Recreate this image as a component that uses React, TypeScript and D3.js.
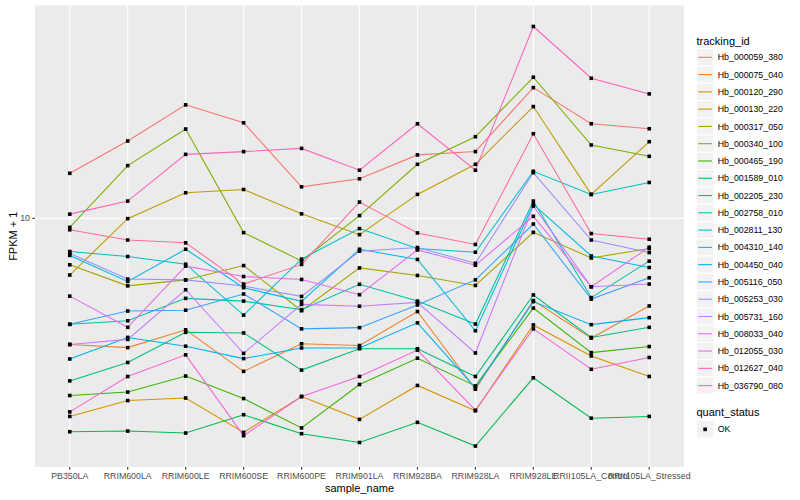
import React from 'react';
import * as d3 from 'd3';

const sampleNames = [
  'PB350LA', 'RRIM600LA', 'RRIM600LE', 'RRIM600SE', 'RRIM600PE', 'RRIM901LA',
  'RRIM928BA', 'RRIM928LA', 'RRIM928LE', 'RRII105LA_Control', 'RRII105LA_Stressed',
];

const trackingIds = [
  'Hb_000059_380', 'Hb_000075_040', 'Hb_000120_290', 'Hb_000130_220', 'Hb_000317_050',
  'Hb_000340_100', 'Hb_000465_190', 'Hb_001589_010', 'Hb_002205_230', 'Hb_002758_010',
  'Hb_002811_130', 'Hb_004310_140', 'Hb_004450_040', 'Hb_005116_050', 'Hb_005253_030',
  'Hb_005731_160', 'Hb_008033_040', 'Hb_012055_030', 'Hb_012627_040', 'Hb_036790_080',
];

// FPKM + 1 for each sample (same order as sampleNames)
const hb000059_380 = [13.85, 17.49, 22.71, 19.95, 12.56, 13.31, 15.82, 16.2, 25.72, 19.81, 19.11];
const hb000075_040 = [4.02, 3.93, 4.47, 3.31, 4.04, 3.99, 5.1, 2.91, 5.52, 4.21, 5.31];
const hb000120_290 = [2.39, 2.68, 2.73, 2.13, 2.76, 2.34, 2.99, 2.49, 4.63, 3.7, 3.19];
const hb000130_220 = [6.64, 9.98, 12.03, 12.32, 10.33, 8.89, 11.89, 14.78, 22.43, 11.89, 17.4];
const hb000317_050 = [7.15, 6.14, 6.41, 7.11, 5.13, 6.99, 6.62, 6.16, 9.04, 7.51, 8.04];
const hb000340_100 = [9.37, 14.64, 19.07, 9.02, 7.35, 10.2, 14.78, 18.04, 27.72, 16.99, 15.66];
const hb000465_190 = [2.78, 2.85, 3.2, 2.72, 2.2, 3.01, 3.64, 2.98, 5.23, 3.79, 3.96];
const hb001589_010 = [2.14, 2.15, 2.12, 2.42, 2.11, 1.98, 2.29, 1.93, 3.16, 2.36, 2.39];
const hb002205_230 = [3.09, 3.53, 4.39, 4.37, 3.34, 3.9, 3.9, 3.19, 5.75, 4.23, 4.55];
const hb002758_010 = [4.65, 4.77, 5.61, 5.5, 5.17, 6.21, 5.5, 4.66, 11.33, 5.64, 7.34];
const hb002811_130 = [7.87, 7.59, 7.18, 4.97, 7.45, 9.29, 8.04, 7.83, 14.05, 11.89, 12.96];
const hb004310_140 = [7.65, 6.34, 8.0, 6.06, 5.49, 8.0, 7.43, 4.44, 11.06, 7.62, 7.01];
const hb004450_040 = [3.62, 4.23, 3.97, 3.63, 3.92, 3.92, 4.7, 2.94, 5.48, 4.64, 4.88];
const hb005116_050 = [4.65, 5.12, 5.15, 5.79, 4.5, 4.54, 5.35, 6.41, 9.6, 5.58, 6.51];
const hb005253_030 = [7.76, 6.45, 6.41, 6.13, 5.69, 7.89, 8.1, 7.23, 13.92, 8.55, 7.81];
const hb005731_160 = [4.02, 4.17, 5.97, 3.77, 5.37, 5.3, 5.45, 3.78, 10.93, 6.1, 6.22];
const hb008033_040 = [5.7, 4.55, 7.08, 6.57, 6.43, 5.76, 7.96, 7.13, 10.15, 6.1, 8.12];
const hb012055_030 = [2.47, 3.19, 3.73, 2.08, 2.76, 3.19, 3.86, 2.5, 4.5, 3.36, 3.66];
const hb012627_040 = [10.31, 11.33, 15.88, 16.2, 16.58, 14.16, 19.81, 14.16, 40.01, 27.52, 24.58];
const hb036790_080 = [9.21, 8.55, 8.38, 6.22, 7.17, 11.25, 9.0, 8.28, 18.43, 8.96, 8.6];

const seriesValues = [
  hb000059_380, hb000075_040, hb000120_290, hb000130_220, hb000317_050,
  hb000340_100, hb000465_190, hb001589_010, hb002205_230, hb002758_010,
  hb002811_130, hb004310_140, hb004450_040, hb005116_050, hb005253_030,
  hb005731_160, hb008033_040, hb012055_030, hb012627_040, hb036790_080,
];

const quantStatus = ['OK'];
const yTicks = [10];

// ggplot2 default hue palette for 20 groups
const palette = [
  '#F8766D', '#EA8331', '#D89000', '#C09B00', '#A3A500', '#7CAE00', '#39B600', '#00BB4E',
  '#00BF7D', '#00C1A3', '#00BFC4', '#00BAE0', '#00B0F6', '#35A2FF', '#9590FF', '#C77CFF',
  '#E76BF3', '#FA62DB', '#FF62BC', '#FF6C91',
];

const FONT = '"Liberation Sans", Arial, Helvetica, sans-serif';

export default function App() {
  const width = 800;
  const height = 500;
  const panel = { left: 35, right: 684, top: 5.5, bottom: 467 };

  const x = d3.scalePoint<string>()
    .domain(sampleNames)
    .range([panel.left, panel.right])
    .padding(0.6);

  const allVals = seriesValues.flat();
  const [lo, hi] = d3.extent(allVals) as [number, number];
  const llo = Math.log10(lo);
  const lhi = Math.log10(hi);
  const pad = (lhi - llo) * 0.05;
  const y = d3.scaleLog()
    .domain([Math.pow(10, llo - pad), Math.pow(10, lhi + pad)])
    .range([panel.bottom, panel.top]);

  const line = d3.line<number>()
    .x((_, i) => x(sampleNames[i]) as number)
    .y(d => y(d));

  const keySize = 17.28;
  const legendX = 696.5;
  const legendTop = 57.3 - keySize / 2;

  return (
    <>
      <style>{'body{margin:0}'}</style>
      <svg width={width} height={height} style={{ display: 'block', fontFamily: FONT }}>
        <rect width={width} height={height} fill="#ffffff" />
        <rect
          x={panel.left}
          y={panel.top}
          width={panel.right - panel.left}
          height={panel.bottom - panel.top}
          fill="#EBEBEB"
        />
        {/* grid */}
        {yTicks.map(t => (
          <line key={'gy' + t} x1={panel.left} x2={panel.right} y1={y(t)} y2={y(t)}
            stroke="#fff" strokeWidth={1.07} />
        ))}
        {sampleNames.map(s => (
          <line key={'gx' + s} x1={x(s)} x2={x(s)} y1={panel.top} y2={panel.bottom}
            stroke="#fff" strokeWidth={1.07} />
        ))}

        {/* lines */}
        {seriesValues.map((vals, i) => (
          <path key={trackingIds[i]} d={line(vals) || ''} fill="none"
            stroke={palette[i]} strokeWidth={1.07} />
        ))}

        {/* points */}
        {seriesValues.map((vals, i) =>
          vals.map((v, j) => (
            <rect key={trackingIds[i] + j} x={(x(sampleNames[j]) as number) - 1.8}
              y={y(v) - 1.8} width={3.6} height={3.6} fill="#000" />
          ))
        )}

        {/* y axis */}
        {yTicks.map(t => (
          <g key={'ty' + t}>
            <line x1={panel.left - 2.75} x2={panel.left} y1={y(t)} y2={y(t)} stroke="#333333" strokeWidth={1.07} />
            <text x={panel.left - 5} y={y(t)} dy="0.35em" textAnchor="end" fontSize={8.8} fill="#4D4D4D">{t}</text>
          </g>
        ))}
        <text transform={`translate(16.5, ${(panel.top + panel.bottom) / 2}) rotate(-90)`}
          textAnchor="middle" fontSize={11} fill="#000">FPKM + 1</text>

        {/* x axis */}
        {sampleNames.map(s => (
          <g key={'tx' + s}>
            <line x1={x(s)} x2={x(s)} y1={panel.bottom} y2={panel.bottom + 2.75} stroke="#333333" strokeWidth={1.07} />
            <text x={x(s)} y={panel.bottom + 11.5} textAnchor="middle" fontSize={8.8} fill="#4D4D4D">{s}</text>
          </g>
        ))}
        <text x={(panel.left + panel.right) / 2} y={492} textAnchor="middle" fontSize={11} fill="#000">sample_name</text>

        {/* legend: tracking_id */}
        <text x={legendX} y={44.5} fontSize={11} fill="#000">tracking_id</text>
        {trackingIds.map((id, i) => {
          const ky = legendTop + i * keySize;
          return (
            <g key={'lg' + id}>
              <rect x={legendX} y={ky} width={keySize} height={keySize} fill="#F2F2F2" stroke="#fff" strokeWidth={1} />
              <line x1={legendX + keySize * 0.1} x2={legendX + keySize * 0.9}
                y1={ky + keySize / 2} y2={ky + keySize / 2} stroke={palette[i]} strokeWidth={1.07} />
              <text x={legendX + keySize + 4} y={ky + keySize / 2} dy="0.35em" fontSize={8.8} fill="#000">{id}</text>
            </g>
          );
        })}

        {/* legend: quant_status */}
        <text x={legendX} y={416} fontSize={11} fill="#000">quant_status</text>
        {quantStatus.map((q, i) => {
          const ky = 420.7 + i * keySize;
          return (
            <g key={'lq' + q}>
              <rect x={legendX} y={ky} width={keySize} height={keySize} fill="#F2F2F2" stroke="#fff" strokeWidth={1} />
              <rect x={legendX + keySize / 2 - 1.8} y={ky + keySize / 2 - 1.8} width={3.6} height={3.6} fill="#000" />
              <text x={legendX + keySize + 4} y={ky + keySize / 2} dy="0.35em" fontSize={8.8} fill="#000">{q}</text>
            </g>
          );
        })}
      </svg>
    </>
  );
}
